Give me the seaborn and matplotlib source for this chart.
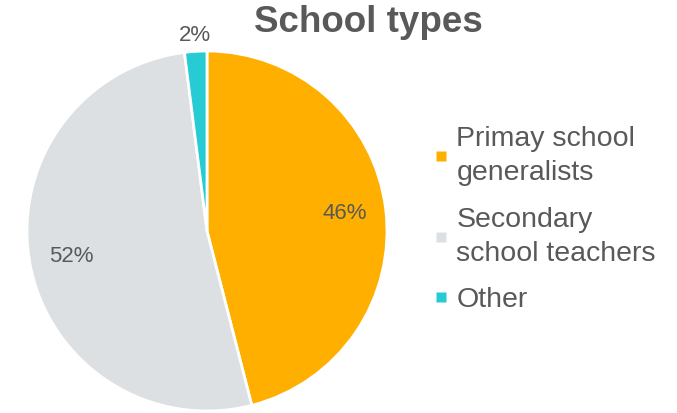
import matplotlib
matplotlib.use("Agg")
import matplotlib.pyplot as plt
from matplotlib.lines import Line2D
import numpy as np
import seaborn as sns

categories = ["Primay school\ngeneralists", "Secondary\nschool teachers", "Other"]
values = [46, 52, 2]
colors = ["#FFAF00", "#DDE0E3", "#27CBD4"]
title = "School types"

sns.set_theme(style="white")
plt.rcParams["font.family"] = ["Liberation Sans", "DejaVu Sans"]
text_color = "#595959"

fig = plt.figure(figsize=(6.77, 4.13), dpi=100)
cx, cy, r = 207, 231, 180
W, H = 677, 413
ax = fig.add_axes([(cx - r) / W, (H - cy - r) / H, 2 * r / W, 2 * r / H])

wedges, texts, autotexts = ax.pie(
    values, colors=colors, startangle=90, counterclock=False,
    autopct=lambda p: f"{p:.0f}%", pctdistance=0.77,
    wedgeprops=dict(edgecolor="white", linewidth=2),
    textprops=dict(color=text_color, fontsize=16),
)
# move small slice label outside
for w, t in zip(wedges, autotexts):
    if (w.theta2 - w.theta1) < 20:
        ang = np.deg2rad((w.theta1 + w.theta2) / 2)
        t.set_position((1.09 * np.cos(ang), 1.09 * np.sin(ang)))
ax.set_aspect("equal")
ax.set_xlim(-1, 1)
ax.set_ylim(-1, 1)

fig.text(368 / W, 1 - 23 / H, title, ha="center", va="center",
         fontsize=26.5, fontweight="bold", color=text_color)

handles = [Line2D([], [], marker="s", linestyle="none", markersize=7,
                  markerfacecolor=w.get_facecolor(), markeredgecolor="none")
           for w in wedges]
leg = fig.legend(handles, categories, loc="upper left",
                 bbox_to_anchor=(418 / W, 1 - 112 / H), frameon=False,
                 fontsize=20.5, labelcolor=text_color, handletextpad=0.25,
                 labelspacing=0.72, handlelength=0.6, borderpad=0)
for t in leg.get_texts():
    t.set_linespacing(1.4)

fig.savefig("out.png", dpi=100)
